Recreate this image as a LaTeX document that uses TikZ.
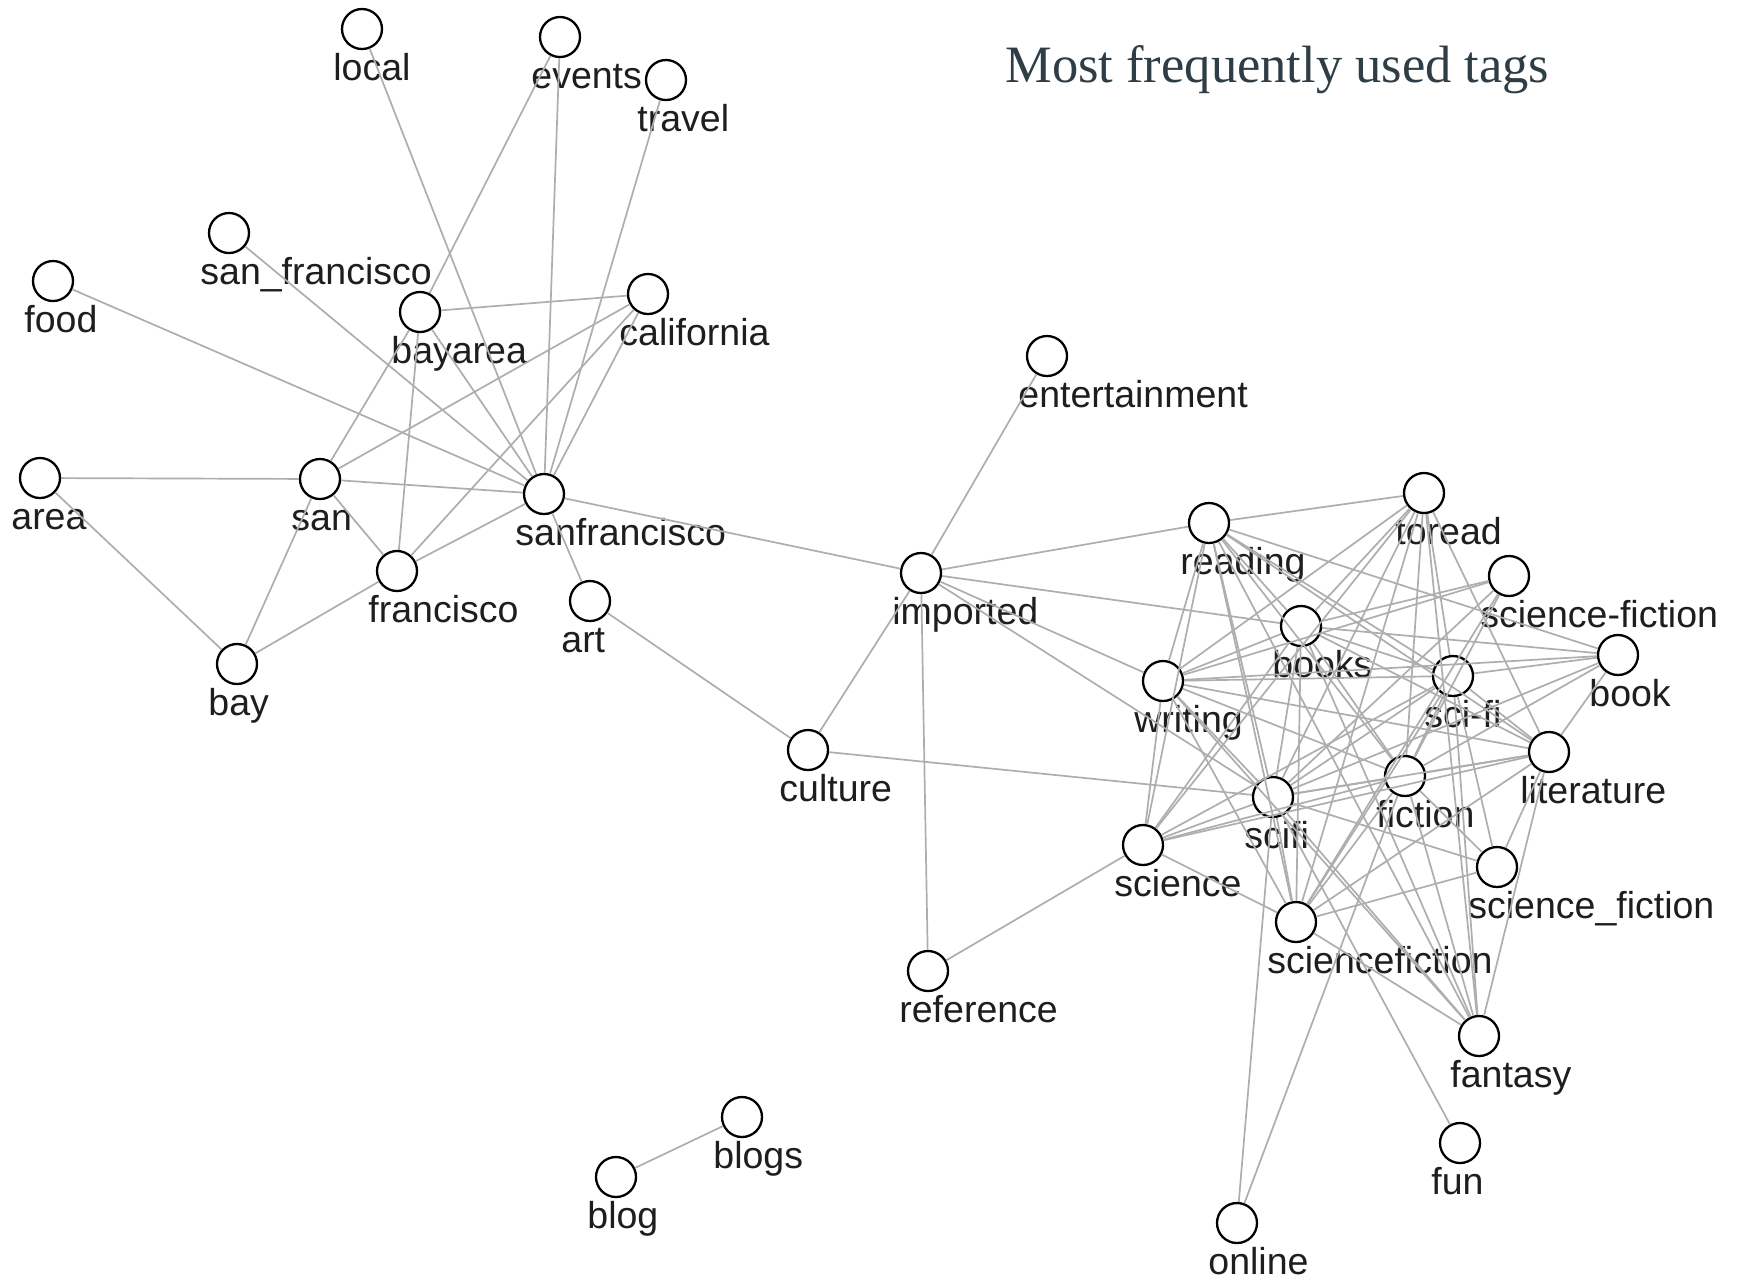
\documentclass[tikz,border=0pt]{standalone}
\usepackage{fontspec}
\setmainfont{Liberation Sans}
\newfontfamily\titlefont{Liberation Serif}
\definecolor{edgegray}{HTML}{AEAEAE}
\definecolor{titlecol}{HTML}{2F3D47}
\definecolor{labcol}{HTML}{1E1E1E}
\newcommand{\tagnode}[4]{%
  \node[tagc] (#1) at (#2,#3) {};
  \node[tagl, anchor=base west] (#1-l) at (#2-29,#3+51) {#4};}
\begin{document}
\begin{tikzpicture}[x=0.5pt,y=-0.5pt,
  tagc/.style={circle, draw=black, line width=1.15pt, fill=white, minimum size=20pt, inner sep=0pt},
  tagl/.style={inner sep=0pt, font=\fontsize{18.75}{22}\selectfont, text=labcol},
  edge/.style={draw=edgegray, line width=0.85pt}]
\useasboundingbox (0,0) rectangle (1740,1282);
\fill[white] (0,0) rectangle (1740,1282);
\node[anchor=base west, inner sep=0pt, text=titlecol, font=\titlefont\fontsize{26.25}{30}\selectfont] (title) at (1005,82) {Most frequently used tags};
% left cluster
\tagnode{local}{362}{29}{local}
\tagnode{events}{560}{37}{events}
\tagnode{travel}{666}{80}{travel}
\tagnode{sanfu}{229}{233}{san\_francisco}
\tagnode{food}{53}{281}{food}
\tagnode{bayarea}{420}{312}{bayarea}
\tagnode{california}{648}{294}{california}
\tagnode{area}{40}{478}{area}
\tagnode{san}{320}{479}{san}
\tagnode{sanfrancisco}{544}{494}{sanfrancisco}
\tagnode{francisco}{397}{571}{francisco}
\tagnode{art}{590}{601}{art}
\tagnode{bay}{237}{664}{bay}
% middle
\tagnode{entertainment}{1047}{356}{entertainment}
\tagnode{imported}{921}{573}{imported}
\tagnode{culture}{808}{750}{culture}
\tagnode{reference}{928}{971}{reference}
\tagnode{blogs}{742}{1117}{blogs}
\tagnode{blog}{616}{1177}{blog}
% right cluster
\tagnode{reading}{1209}{523}{reading}
\tagnode{toread}{1424}{493}{toread}
\tagnode{sfhy}{1509}{576}{science-fiction}
\tagnode{books}{1301}{626}{books}
\tagnode{writing}{1163}{681}{writing}
\tagnode{scihy}{1453}{676}{sci-fi}
\tagnode{book}{1618}{655}{book}
\tagnode{literature}{1549}{752}{literature}
\tagnode{fiction}{1405}{776}{fiction}
\tagnode{scifi}{1273}{797}{scifi}
\tagnode{science}{1143}{845}{science}
\tagnode{sfu}{1497}{867}{science\_fiction}
\tagnode{sciencefiction}{1296}{922}{sciencefiction}
\tagnode{fantasy}{1479}{1036}{fantasy}
\tagnode{fun}{1460}{1143}{fun}
\tagnode{online}{1237}{1223}{online}
% edges
\foreach \a/\b in {local/sanfrancisco, events/bayarea, events/sanfrancisco, travel/sanfrancisco,
  sanfu/sanfrancisco, food/sanfrancisco, bayarea/california, bayarea/san, bayarea/francisco,
  bayarea/sanfrancisco, california/san, california/francisco, california/sanfrancisco,
  area/san, area/bay, san/sanfrancisco, san/francisco, san/bay, francisco/bay,
  francisco/sanfrancisco, sanfrancisco/art, sanfrancisco/imported, art/culture,
  imported/entertainment, imported/reading, imported/books, imported/writing, imported/scifi,
  imported/culture, imported/reference, culture/scifi, reference/science, blog/blogs,
  reading/toread, reading/writing, reading/science, reading/books, reading/scifi, reading/scihy,
  reading/book, reading/literature, reading/fiction, reading/sciencefiction, reading/fantasy,
  toread/books, toread/writing, toread/scifi, toread/science, toread/sciencefiction,
  toread/fiction, toread/scihy, toread/literature, toread/fantasy,
  sfhy/writing, sfhy/books, sfhy/scifi, sfhy/fiction, sfhy/sciencefiction,
  books/writing, books/scihy, books/book, books/literature, books/fiction, books/scifi,
  books/science, books/sciencefiction, books/fantasy,
  writing/scihy, writing/book, writing/literature, writing/fiction, writing/scifi,
  writing/science, writing/sciencefiction, writing/fantasy,
  scihy/book, scihy/literature, scihy/fiction, scihy/scifi, scihy/science,
  scihy/sciencefiction, scihy/sfu, scihy/fantasy,
  book/literature, book/scifi, book/fiction,
  literature/fiction, literature/scifi, literature/science, literature/sciencefiction,
  literature/sfu, literature/fantasy,
  fiction/scifi, fiction/science, fiction/sciencefiction, fiction/sfu, fiction/fantasy, fiction/online,
  scifi/science, scifi/sciencefiction, scifi/sfu, scifi/fantasy, scifi/fun, scifi/online,
  science/sciencefiction, sfu/sciencefiction, sciencefiction/fantasy}
  \draw[edge] (\a) -- (\b);
\end{tikzpicture}
\end{document}
